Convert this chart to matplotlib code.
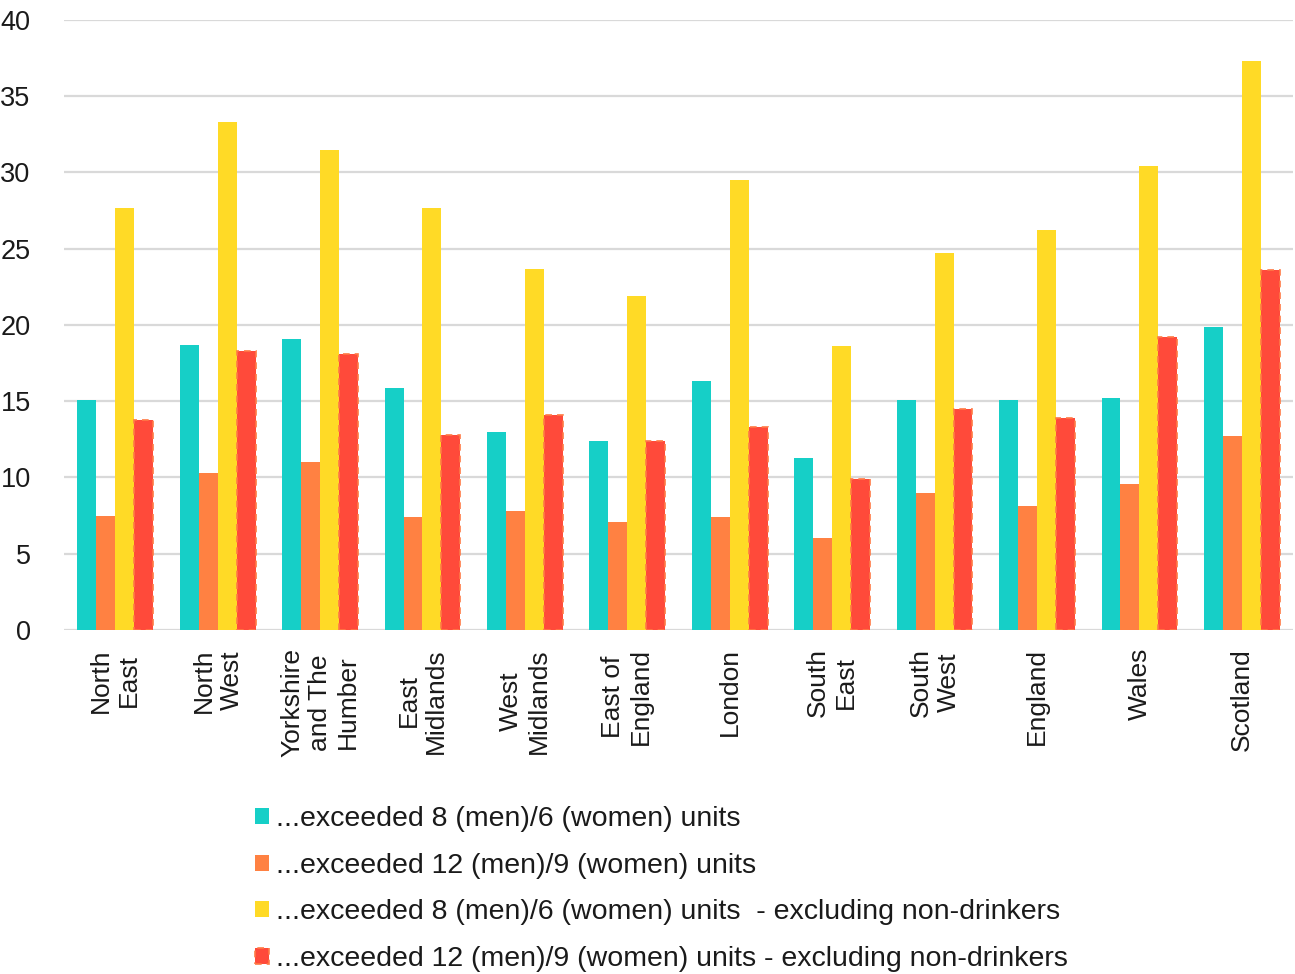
import numpy as np
import matplotlib
matplotlib.use("Agg")
import matplotlib.pyplot as plt

plt.rcParams['font.family'] = ['Liberation Sans', 'DejaVu Sans']

regions = ["North\nEast", "North\nWest", "Yorkshire\nand The\nHumber", "East\nMidlands",
           "West\nMidlands", "East of\nEngland", "London", "South\nEast", "South\nWest",
           "England", "Wales", "Scotland"]

over_8_6 = [15.1, 18.7, 19.1, 15.9, 13.0, 12.4, 16.3, 11.3, 15.1, 15.1, 15.2, 19.9]
over_12_9 = [7.5, 10.3, 11.0, 7.4, 7.8, 7.1, 7.4, 6.0, 9.0, 8.1, 9.6, 12.7]
over_8_6_excl = [27.7, 33.3, 31.5, 27.7, 23.7, 21.9, 29.5, 18.6, 24.7, 26.2, 30.4, 37.3]
over_12_9_excl = [13.8, 18.3, 18.1, 12.8, 14.1, 12.4, 13.3, 9.9, 14.5, 13.9, 19.2, 23.6]

series_labels = ["...exceeded 8 (men)/6 (women) units",
                 "...exceeded 12 (men)/9 (women) units",
                 "...exceeded 8 (men)/6 (women) units  - excluding non-drinkers",
                 "...exceeded 12 (men)/9 (women) units - excluding non-drinkers"]
colors = ["#16CFC7", "#FF8142", "#FFDA26", "#FF4A3A"]

fig = plt.figure(figsize=(12.95, 9.74), dpi=100)
ax = fig.add_axes([0.0494, 0.3532, 0.9491, 0.6263])

x = np.arange(len(regions))
w = 0.185
data = [over_8_6, over_12_9, over_8_6_excl, over_12_9_excl]
handles = []
for i, (vals, c) in enumerate(zip(data, colors)):
    pos = x + (i - 1.5) * w
    if i == 3:
        b = ax.bar(pos, vals, w, color=c, edgecolor="#FF7A45", linewidth=1.2,
                   linestyle=(0, (4, 3)), zorder=3)
    else:
        b = ax.bar(pos, vals, w, color=c, linewidth=0, zorder=3)
    handles.append(b)

ax.set_xlim(-0.5, len(regions) - 0.5)
ax.set_ylim(0, 40)
ax.set_yticks(np.arange(0, 41, 5))
ax.yaxis.grid(True, color="#d9d9d9", linewidth=1.6, zorder=0)
ax.set_axisbelow(True)
for s in ax.spines.values():
    s.set_visible(False)
ax.tick_params(axis="y", length=0, pad=24, labelsize=19.5, labelcolor="#1a1a1a")
ax.tick_params(axis="x", length=0, pad=13)
ax.set_xticks(x)
ax.set_xticklabels(regions, rotation=90, fontsize=19, va="top", ha="center",
                   multialignment="center", color="#1a1a1a")

fig.legend(handles, series_labels, loc="upper left", bbox_to_anchor=(0.197, 0.172),
           frameon=False, fontsize=20.5, handlelength=0.5, handleheight=0.5,
           handletextpad=0.25, labelspacing=0.72, borderpad=0, borderaxespad=0,
           labelcolor="#1a1a1a")

fig.savefig("out.png", dpi=100)
